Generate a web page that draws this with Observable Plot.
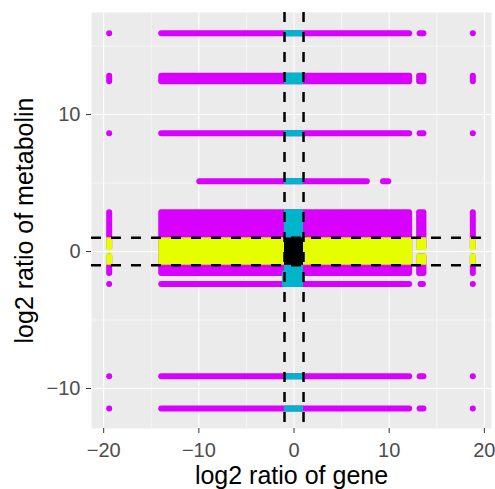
<!DOCTYPE html>
<html>
<head>
<meta charset="utf-8">
<script src="https://cdn.jsdelivr.net/npm/d3@7"></script>
<script src="https://cdn.jsdelivr.net/npm/@observablehq/plot@0.6"></script>
<style>
  body { margin: 0; background: #ffffff; }
</style>
</head>
<body>
<div id="chart"></div>
<script>
// ---- Data (log2 ratios) ----
// Horizontal bands of points: lower/upper y of each band
const levelY1 = [15.9, 12.4, 8.6, 5.1, -1.6, -2.4, -9.15, -11.5];
const levelY2 = [15.9, 12.8, 8.6, 5.1, 2.83, -2.4, -9.15, -11.5];
// Dense main run of each band (x extent)
const mainX1 = [-13.9, -13.9, -13.9, -9.9, -13.9, -13.9, -13.9, -13.9];
const mainX2 = [12.15, 12.15, 12.15, 7.7, 12.15, 12.15, 12.15, 12.15];
// Small detached cluster to the right of each band
const extraX1 = [13.25, 13.2, 13.25, 9.4, 13.2, 13.35, 13.25, 13.25];
const extraX2 = [13.65, 13.65, 13.65, 9.95, 13.65, 13.6, 13.65, 13.65];
// Isolated extreme genes (columns at far left / far right)
const outlierX = [-19.37, 18.84];
const bandHasOutliers = [true, true, true, false, true, true, true, true];
// Gap around y = 0 in the narrow columns of the central band
const centralBand = 4;
const columnGapY = [-0.39, 0.29];
// Points bridging the central band and the -2.4 band near x = 0
const bridgeX = [-0.9, 0.65];
const bridgeY = [-2.4, -1.6];
// Cut-offs (dashed lines)
const cutoffs = [-1, 1];
// Axis ticks
const xTicks = [-20, -10, 0, 10, 20];
const xMinor = [-15, -5, 5, 15];
const yTicks = [-10, 0, 10];
const yMinor = [-5, 5, 15];
const categories = ["both", "gene", "metabolite", "neither"];
const categoryColors = ["#000000", "#00B4CC", "#E5FF00", "#D800FF"];

// ---- Build blocks of points ----
const blocks = [];
levelY1.forEach((y1, i) => {
  const y2 = levelY2[i];
  blocks.push({x1: mainX1[i], x2: mainX2[i], y1, y2});
  const cols = [{x1: extraX1[i], x2: extraX2[i]}];
  if (bandHasOutliers[i]) outlierX.forEach(x => cols.push({x1: x, x2: x}));
  cols.forEach(c => {
    if (i === centralBand) {
      blocks.push({...c, y1, y2: columnGapY[0]});
      blocks.push({...c, y1: columnGapY[1], y2});
    } else {
      blocks.push({...c, y1, y2});
    }
  });
});
blocks.push({x1: bridgeX[0], x2: bridgeX[1], y1: bridgeY[0], y2: bridgeY[1]});

function splitRange(a, b) {
  if (a === b) {
    return [{lo: a, hi: b, cutLo: false, cutHi: false, inside: a > cutoffs[0] && a < cutoffs[1]}];
  }
  const cuts = [a, b, ...cutoffs.filter(t => t > a && t < b)].sort((p, q) => p - q);
  const out = [];
  for (let k = 0; k < cuts.length - 1; k++) {
    const lo = cuts[k], hi = cuts[k + 1];
    const mid = (lo + hi) / 2;
    out.push({lo, hi, cutLo: lo !== a, cutHi: hi !== b, inside: mid > cutoffs[0] && mid < cutoffs[1]});
  }
  return out;
}

const pieces = [];
blocks.forEach(b => {
  const own = [];
  splitRange(b.x1, b.x2).forEach(px => {
    splitRange(b.y1, b.y2).forEach(py => {
      const cat = px.inside && py.inside ? "both" : px.inside ? "gene" : py.inside ? "metabolite" : "neither";
      own.push({x1: px.lo, x2: px.hi, y1: py.lo, y2: py.hi, cat,
        key: [px.cutLo, px.cutHi, py.cutHi, py.cutLo].map(Number).join("")});
    });
  });
  b.cat = own.some(p => p.cat === "neither") ? "neither" : own[0].cat;
  own.filter(p => p.cat !== "neither").forEach(p => pieces.push(p));
});

const pad = 3;
// base layer: whole blocks with rounded (dot-like) ends
const baseMark = Plot.rect(blocks, {
  x1: "x1", x2: "x2", y1: "y1", y2: "y2", fill: "cat",
  inset: -pad, rx: pad
});
// overlay: parts of the blocks inside the cut-off zones
const groups = d3.groups(pieces, d => d.key);
const pointMarks = groups.map(([key, arr]) => {
  const [cl, cr, ct, cb] = key.split("").map(Number);
  const anyCut = cl || cr || ct || cb;
  return Plot.rect(arr, {
    x1: "x1", x2: "x2", y1: "y1", y2: "y2", fill: "cat",
    insetLeft: cl ? 0 : -pad, insetRight: cr ? 0 : -pad,
    insetTop: ct ? 0 : -pad, insetBottom: cb ? 0 : -pad,
    rx: anyCut ? 0 : pad
  });
});

const fmt = d => d < 0 ? "\u2212" + Math.abs(d) : String(d);

const chart = Plot.plot({
  width: 495,
  height: 489,
  marginLeft: 91,
  marginRight: 4,
  marginTop: 12,
  marginBottom: 61,
  style: {fontFamily: "'Liberation Sans', Arial, Helvetica, sans-serif", background: "#ffffff", color: "#000"},
  x: {domain: [-21.28, 20.75], label: null},
  y: {domain: [-12.92, 17.45], label: null},
  color: {type: "ordinal", domain: categories, range: categoryColors},
  marks: [
    Plot.frame({fill: "#EBEBEB", stroke: "none"}),
    Plot.gridX(xMinor, {stroke: "#ffffff", strokeOpacity: 1, strokeWidth: 0.55}),
    Plot.gridY(yMinor, {stroke: "#ffffff", strokeOpacity: 1, strokeWidth: 0.55}),
    Plot.gridX(xTicks, {stroke: "#ffffff", strokeOpacity: 1, strokeWidth: 1.1}),
    Plot.gridY(yTicks, {stroke: "#ffffff", strokeOpacity: 1, strokeWidth: 1.1}),
    baseMark,
    ...pointMarks,
    Plot.ruleX(cutoffs, {stroke: "#000", strokeWidth: 2.5, strokeDasharray: "10,10"}),
    Plot.ruleY(cutoffs, {stroke: "#000", strokeWidth: 2.5, strokeDasharray: "10,10"}),
    Plot.axisX({ticks: xTicks, tickFormat: fmt, tickSize: 5, tickPadding: 9, fontSize: 20,
      stroke: "#333333", fill: "#4D4D4D", label: null}),
    Plot.axisY({ticks: yTicks, tickFormat: fmt, tickSize: 5, tickPadding: 6, fontSize: 20,
      stroke: "#333333", fill: "#4D4D4D", label: null}),
    Plot.text(["log2 ratio of gene"], {frameAnchor: "bottom", lineAnchor: "bottom", dy: 55,
      fontSize: 25, fill: "#000"}),
    Plot.text(["log2 ratio of metabolin"], {frameAnchor: "left", textAnchor: "middle", rotate: -90, dx: -67,
      fontSize: 25, fill: "#000"})
  ]
});
document.getElementById("chart").appendChild(chart);
</script>
</body>
</html>
